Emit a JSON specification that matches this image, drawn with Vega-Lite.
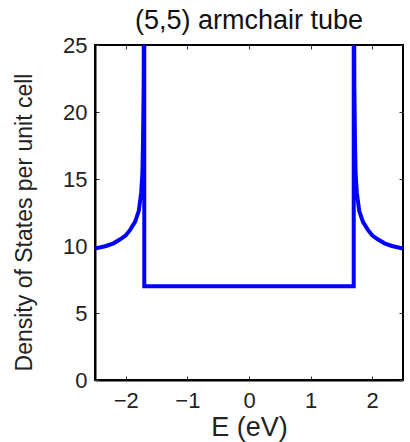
{
  "$schema": "https://vega.github.io/schema/vega-lite/v6.json",
  "width": 308,
  "height": 335,
  "autosize": "none",
  "padding": {"left": 95, "top": 45, "right": 7, "bottom": 62},
  "background": "white",
  "title": {
    "text": "(5,5) armchair tube",
    "fontSize": 27,
    "fontWeight": "normal",
    "font": "Liberation Sans",
    "color": "#111111",
    "anchor": "middle",
    "frame": "group",
    "offset": -1
  },
  "config": {
    "view": {"stroke": "black", "strokeWidth": 2},
    "axis": {
      "grid": false,
      "domainColor": "black",
      "domainWidth": 2,
      "tickColor": "#333333",
      "tickWidth": 1,
      "tickSize": -4,
      "labelFont": "Liberation Sans",
      "labelFontSize": 22,
      "labelColor": "#222222",
      "titleFont": "Liberation Sans",
      "titleFontWeight": "normal",
      "titleColor": "#222222"
    }
  },
  "data": {
    "values": [
      {"i": 0, "E": -2.5, "dos": 9.8},
      {"i": 1, "E": -2.32, "dos": 10.0},
      {"i": 2, "E": -2.2, "dos": 10.2},
      {"i": 3, "E": -2.09, "dos": 10.5},
      {"i": 4, "E": -2.0, "dos": 10.8},
      {"i": 5, "E": -1.93, "dos": 11.2},
      {"i": 6, "E": -1.85, "dos": 11.8},
      {"i": 7, "E": -1.79, "dos": 12.6},
      {"i": 8, "E": -1.75, "dos": 14.0},
      {"i": 9, "E": -1.73, "dos": 15.5},
      {"i": 10, "E": -1.72, "dos": 18},
      {"i": 11, "E": -1.71, "dos": 22},
      {"i": 12, "E": -1.7, "dos": 40},
      {"i": 13, "E": -1.7, "dos": 7},
      {"i": 14, "E": 1.7, "dos": 7},
      {"i": 15, "E": 1.7, "dos": 40},
      {"i": 16, "E": 1.71, "dos": 22},
      {"i": 17, "E": 1.72, "dos": 18},
      {"i": 18, "E": 1.73, "dos": 15.5},
      {"i": 19, "E": 1.75, "dos": 14.0},
      {"i": 20, "E": 1.79, "dos": 12.6},
      {"i": 21, "E": 1.85, "dos": 11.8},
      {"i": 22, "E": 1.93, "dos": 11.2},
      {"i": 23, "E": 2.0, "dos": 10.8},
      {"i": 24, "E": 2.09, "dos": 10.5},
      {"i": 25, "E": 2.2, "dos": 10.2},
      {"i": 26, "E": 2.32, "dos": 10.0},
      {"i": 27, "E": 2.5, "dos": 9.8}
    ]
  },
  "layer": [
    {
      "mark": {"type": "line", "color": "#0000ff", "strokeWidth": 4, "clip": true, "strokeJoin": "miter"},
      "encoding": {
        "x": {
          "field": "E", "type": "quantitative",
          "scale": {"domain": [-2.5, 2.5], "nice": false, "zero": false},
          "axis": {"orient": "bottom", "values": [-2, -1, 0, 1, 2], "title": "E (eV)", "titleFontSize": 27, "labelPadding": 14, "titlePadding": 3}
        },
        "y": {
          "field": "dos", "type": "quantitative",
          "scale": {"domain": [0, 25], "nice": false},
          "axis": {"orient": "left", "values": [0, 5, 10, 15, 20, 25], "title": "Density of States per unit cell", "titleFontSize": 23, "labelPadding": 12, "titlePadding": 26, "titleY": 177}
        },
        "order": {"field": "i", "type": "quantitative"}
      }
    },
    {
      "mark": {"type": "line", "strokeOpacity": 0, "clip": true},
      "encoding": {
        "x": {
          "field": "E", "type": "quantitative",
          "axis": {"orient": "top", "values": [-2, -1, 0, 1, 2], "labels": false, "domain": false, "title": null}
        },
        "y": {
          "field": "dos", "type": "quantitative",
          "axis": {"orient": "right", "values": [0, 5, 10, 15, 20, 25], "labels": false, "domain": false, "title": null}
        },
        "order": {"field": "i", "type": "quantitative"}
      }
    }
  ],
  "resolve": {"axis": {"x": "independent", "y": "independent"}}
}
